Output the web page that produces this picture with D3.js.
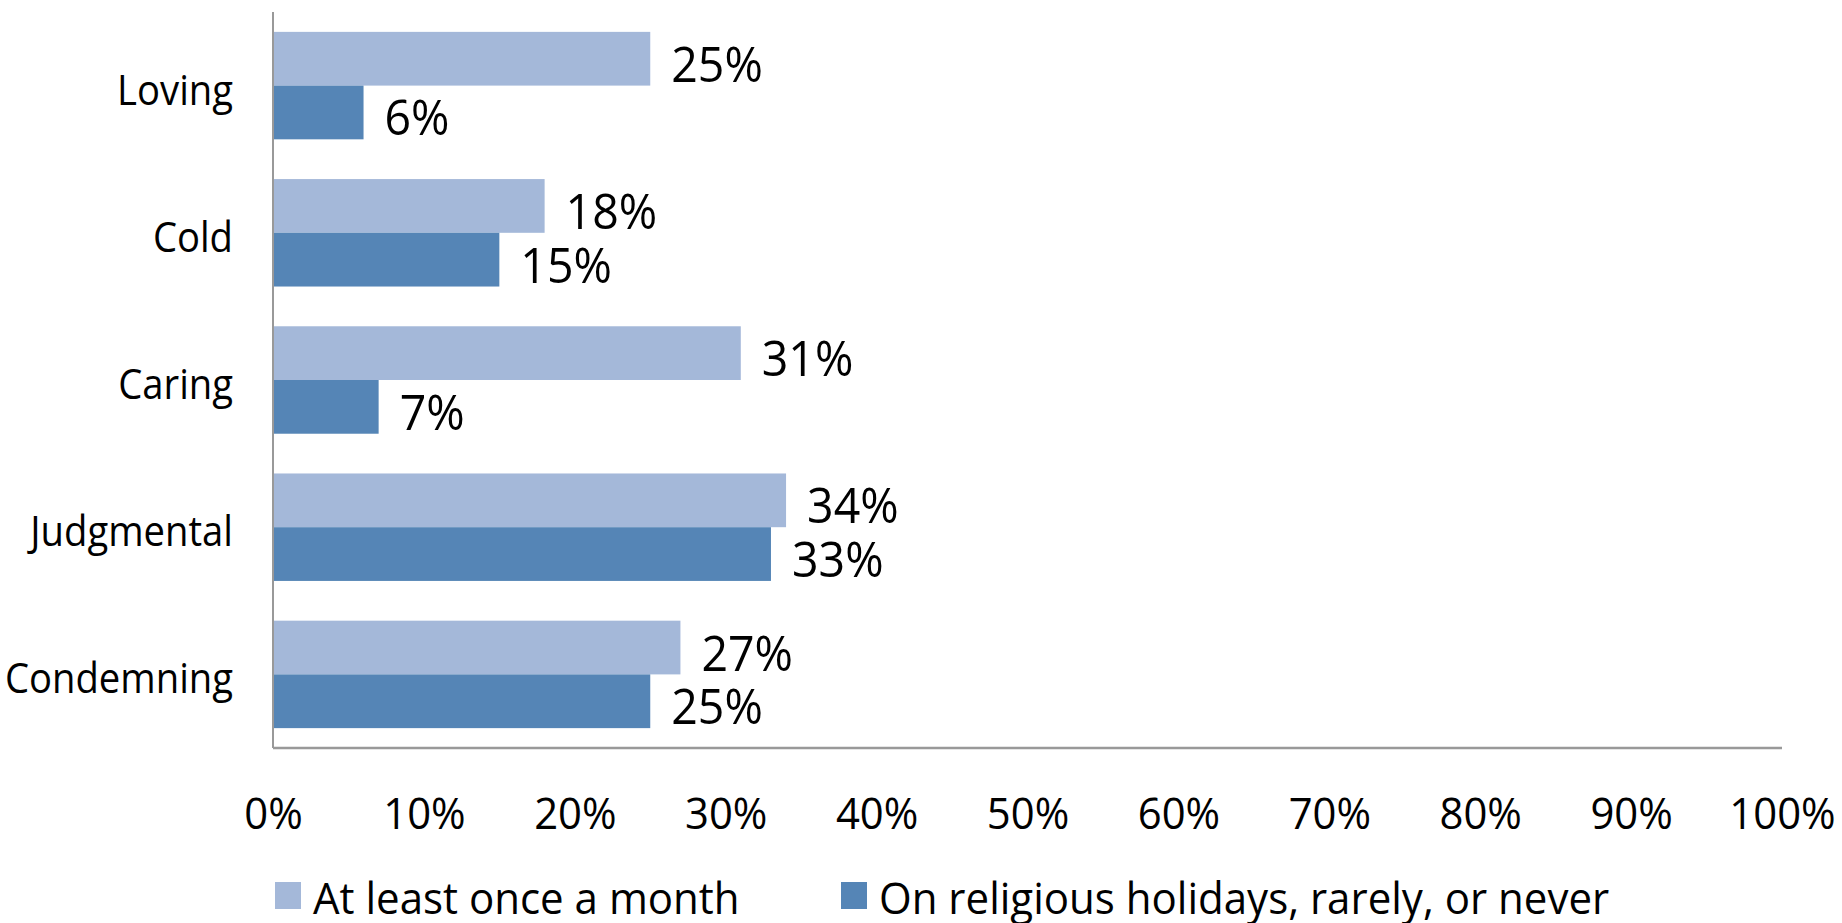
<!DOCTYPE html>
<html>
<head>
<meta charset="utf-8">
<script src="https://cdn.jsdelivr.net/npm/d3@7"></script>
<style>
  body { margin: 0; background: #fff; overflow: hidden; }
  text { font-family: "Liberation Sans Narrow", "Open Sans", sans-serif; fill: #000; }
</style>
</head>
<body>
<div id="graph"></div>
<script>
var categories = ["Loving", "Cold", "Caring", "Judgmental", "Condemning"];
var seriesNames = ["At least once a month", "On religious holidays, rarely, or never"];
var monthly = [25, 18, 31, 34, 27];
var rarely = [6, 15, 7, 33, 25];
var ticks = [0, 10, 20, 30, 40, 50, 60, 70, 80, 90, 100];
var colors = ["#a4b8d9", "#5585b6"];

var width = 1842, height = 923;
var margin = {top: 12, right: 60, bottom: 175, left: 273};

var svg = d3.select("#graph").append("svg")
    .attr("width", width)
    .attr("height", height);

var g = svg.append("g").attr("transform", "translate(" + margin.left + "," + margin.top + ")");
var w = 1782 - margin.left, h = 748 - margin.top;

var y = d3.scaleBand().domain(categories).range([0, h]).paddingInner(0.27).paddingOuter(0.135);
var inner = d3.scaleBand().domain([0, 1]).range([0, y.bandwidth()]);
var x = d3.scaleLinear().domain([0, 100]).range([0, w]);

// squeeze text a bit, the original font is narrower
function narrow(sel, f) {
  sel.each(function() {
    var len = this.getComputedTextLength();
    d3.select(this).attr("textLength", len * f).attr("lengthAdjust", "spacingAndGlyphs");
  });
}

var rows = categories.map(function(c, i) {
  return {cat: c, vals: [monthly[i], rarely[i]]};
});

var grp = g.selectAll(".grp").data(rows).enter().append("g")
    .attr("transform", function(d) { return "translate(0," + y(d.cat) + ")"; });

var bars = grp.selectAll(".bar").data(function(d) { return d.vals.map(function(v, k) { return {v: v, k: k}; }); })
  .enter();

bars.append("rect")
    .attr("x", 0)
    .attr("y", function(d) { return inner(d.k); })
    .attr("width", function(d) { return x(d.v); })
    .attr("height", inner.bandwidth())
    .attr("fill", function(d) { return colors[d.k]; });

bars.append("text")
    .attr("class", "val")
    .attr("x", function(d) { return x(d.v) + 21; })
    .attr("y", function(d) { return inner(d.k) + inner.bandwidth() / 2 + 23; })
    .style("font-size", "50px")
    .text(function(d) { return d.v + "%"; });
narrow(g.selectAll(".val"), 0.93);

// category labels
var yAxis = d3.axisLeft(y).tickSize(0).tickPadding(40);
g.append("g").call(yAxis)
  .call(function(a) {
    a.select(".domain").remove();
    a.selectAll(".tick text").attr("dy", 19).style("font-size", "42px").attr("font-family", null);
    narrow(a.selectAll(".tick text"), 0.91);
  });

// x tick labels
var xAxis = d3.axisBottom(x).tickValues(ticks).tickSize(0)
    .tickFormat(function(d) { return d + "%"; });
g.append("g").attr("transform", "translate(0," + h + ")").call(xAxis)
  .call(function(a) {
    a.select(".domain").remove();
    a.selectAll(".tick text").attr("dy", 0).attr("y", 81).style("font-size", "44px").attr("font-family", null);
    narrow(a.selectAll(".tick text"), 0.95);
  });

// axis lines
g.append("line").attr("x1", 0).attr("x2", 0).attr("y1", 0).attr("y2", h)
    .attr("stroke", "#999").attr("stroke-width", 2);
g.append("line").attr("x1", 0).attr("x2", w).attr("y1", h).attr("y2", h)
    .attr("stroke", "#999").attr("stroke-width", 2.5);

// legend
var legX = [275, 841];
var leg = svg.selectAll(".leg").data(seriesNames).enter().append("g")
    .attr("transform", function(d, i) { return "translate(" + legX[i] + ",882)"; });
leg.append("rect").attr("width", 26).attr("height", 27)
    .attr("fill", function(d, i) { return colors[i]; });
leg.append("text").attr("x", 38).attr("y", 32).style("font-size", "44px")
    .text(function(d) { return d; });
narrow(leg.selectAll("text"), 0.955);
</script>
</body>
</html>
